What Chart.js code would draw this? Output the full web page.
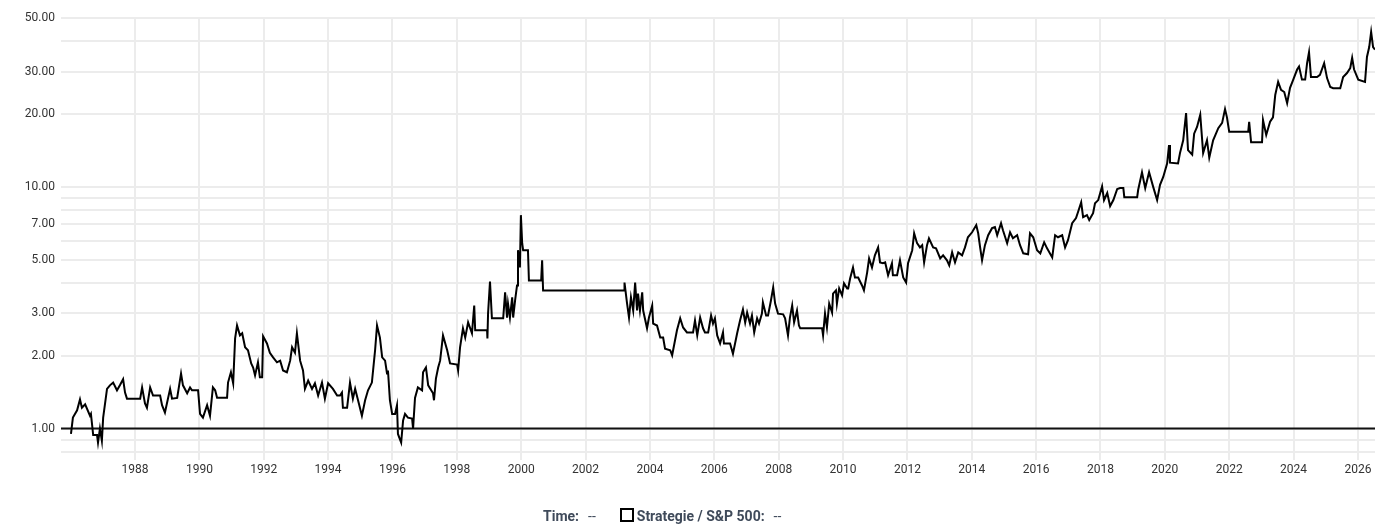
<!DOCTYPE html>
<html>
<head>
<meta charset="utf-8">
<script src="https://cdn.jsdelivr.net/npm/chart.js@4"></script>
<style>
  html, body { margin: 0; padding: 0; background: #fff; }
  #wrap { position: relative; width: 1389px; height: 532px; }
  #legend {
    position: absolute; left: 543px; top: 508px; height: 18px; line-height: 18px;
    font: bold 14px Roboto, sans-serif; color: #3f4a5a; white-space: nowrap;
  }
  #legend .v { font-weight: normal; margin-left: 9px; }
  #legend .box {
    display: inline-block; width: 10px; height: 10px; border: 2px solid #000;
    vertical-align: -1px; margin-left: 24px; margin-right: 3px;
  }
</style>
</head>
<body>
<div id="wrap">
  <canvas id="ratioChart"></canvas>
  <div id="legend"><span>Time:</span><span class="v">--</span><span class="box"></span><span>Strategie / S&amp;P 500:</span><span class="v">--</span></div>
</div>
<script>
// decimal years and Strategie / S&P 500 ratio
const years = [
  1986.01, 1986.07, 1986.20, 1986.29, 1986.35, 1986.45, 1986.60, 1986.63, 1986.70, 1986.82,
  1986.85, 1986.91, 1986.97, 1987.01, 1987.13, 1987.22, 1987.32, 1987.44, 1987.53, 1987.63,
  1987.69, 1987.75, 1988.16, 1988.22, 1988.31, 1988.37, 1988.47, 1988.56, 1988.78, 1988.84,
  1988.93, 1989.09, 1989.15, 1989.31, 1989.43, 1989.49, 1989.62, 1989.71, 1989.77, 1989.96,
  1990.02, 1990.11, 1990.24, 1990.33, 1990.42, 1990.49, 1990.55, 1990.86, 1990.89, 1990.98,
  1991.05, 1991.11, 1991.17, 1991.26, 1991.33, 1991.42, 1991.51, 1991.61, 1991.67, 1991.73,
  1991.82, 1991.88, 1991.95, 1991.98, 1992.10, 1992.19, 1992.29, 1992.41,
  1992.51, 1992.60, 1992.72, 1992.82, 1992.88, 1992.97, 1993.03, 1993.13, 1993.22, 1993.28,
  1993.38, 1993.50, 1993.59, 1993.69, 1993.81, 1993.90, 1994.00, 1994.15, 1994.28, 1994.37,
  1994.43, 1994.46, 1994.59, 1994.68, 1994.77, 1994.84, 1994.93, 1995.05, 1995.15, 1995.24,
  1995.36, 1995.46, 1995.52, 1995.61, 1995.68, 1995.77, 1995.83, 1995.86, 1995.92, 1995.99,
  1996.08, 1996.14, 1996.17, 1996.27, 1996.33, 1996.39, 1996.48, 1996.61, 1996.64, 1996.70,
  1996.79, 1996.92, 1996.95, 1997.04, 1997.11, 1997.26, 1997.29, 1997.35, 1997.42, 1997.48,
  1997.57, 1997.70, 1997.79, 1998.01, 1998.04, 1998.10, 1998.19, 1998.26, 1998.35, 1998.47,
  1998.54, 1998.57, 1998.94, 1998.95, 1998.97, 1999.03,
  1999.09, 1999.44, 1999.50, 1999.56, 1999.59, 1999.65, 1999.72, 1999.75, 1999.81, 1999.87,
  1999.90, 1999.96, 1999.99, 2000.03, 2000.06, 2000.21, 2000.24, 2000.62, 2000.65, 2000.68,
  2003.20, 2003.21, 2003.29, 2003.35, 2003.41, 2003.48, 2003.54, 2003.60, 2003.63, 2003.69,
  2003.76, 2003.79, 2003.91, 2003.97, 2004.07, 2004.10, 2004.22, 2004.32, 2004.41, 2004.47,
  2004.63, 2004.69, 2004.78, 2004.84, 2004.94, 2005.03, 2005.15, 2005.34, 2005.40, 2005.47,
  2005.56, 2005.65, 2005.71, 2005.81, 2005.90, 2005.96, 2006.02, 2006.09, 2006.18,
  2006.27, 2006.30, 2006.49, 2006.58, 2006.71, 2006.80, 2006.89, 2006.96, 2007.02, 2007.11,
  2007.17, 2007.24, 2007.33, 2007.39, 2007.48, 2007.51, 2007.61, 2007.67, 2007.76, 2007.83,
  2007.89, 2007.98, 2008.14, 2008.20, 2008.29, 2008.35, 2008.42, 2008.48, 2008.57, 2008.63,
  2008.67, 2009.35, 2009.38, 2009.44, 2009.50, 2009.57, 2009.66, 2009.69, 2009.78, 2009.81,
  2009.88, 2009.97, 2010.03, 2010.13, 2010.16, 2010.22, 2010.31, 2010.37, 2010.47, 2010.59,
  2010.65, 2010.75, 2010.81, 2010.90, 2010.99, 2011.09, 2011.15, 2011.24, 2011.31, 2011.40,
  2011.52, 2011.55, 2011.68, 2011.77, 2011.87, 2011.96, 2012.02, 2012.15, 2012.21, 2012.30,
  2012.39, 2012.46, 2012.52, 2012.61, 2012.67, 2012.80, 2012.89, 2013.02,
  2013.11, 2013.23, 2013.30, 2013.39, 2013.48, 2013.58, 2013.70, 2013.79, 2013.88, 2014.01,
  2014.14, 2014.20, 2014.26, 2014.32, 2014.41, 2014.51, 2014.63, 2014.72, 2014.79, 2014.91,
  2014.97, 2015.10, 2015.19, 2015.28, 2015.41, 2015.50, 2015.60, 2015.75, 2015.81, 2015.91,
  2016.03, 2016.13, 2016.25, 2016.34, 2016.50, 2016.59, 2016.68, 2016.81, 2016.90, 2016.99,
  2017.12, 2017.24, 2017.30, 2017.40, 2017.46, 2017.58, 2017.65, 2017.77, 2017.83, 2017.93,
  2018.05, 2018.11, 2018.21, 2018.30, 2018.40, 2018.52, 2018.61, 2018.71, 2018.74, 2019.14,
  2019.17, 2019.29, 2019.39, 2019.51, 2019.64, 2019.76, 2019.85,
  2019.95, 2020.07, 2020.13, 2020.16, 2020.41, 2020.47, 2020.57, 2020.66, 2020.72, 2020.85,
  2020.91, 2021.00, 2021.10, 2021.19, 2021.31, 2021.38, 2021.50, 2021.66, 2021.78, 2021.87,
  2021.93, 2022.00, 2022.59, 2022.62, 2022.68, 2023.02, 2023.05, 2023.15, 2023.27, 2023.36,
  2023.43, 2023.52, 2023.61, 2023.71, 2023.80, 2023.89, 2023.99, 2024.11, 2024.17, 2024.26,
  2024.36, 2024.42, 2024.48, 2024.54, 2024.73, 2024.82, 2024.95, 2025.04, 2025.14, 2025.23,
  2025.45, 2025.54, 2025.66, 2025.76, 2025.82, 2025.88, 2026.01, 2026.22, 2026.28, 2026.35,
  2026.41, 2026.47, 2026.53
];
const ratio = [
  0.95, 1.11, 1.19, 1.32, 1.22, 1.26, 1.13, 1.15, 0.94, 0.94,
  0.875, 1.00, 0.89, 1.11, 1.46, 1.51, 1.55, 1.44, 1.51, 1.60,
  1.41, 1.33, 1.33, 1.48, 1.27, 1.22, 1.48, 1.37, 1.37, 1.25,
  1.165, 1.46, 1.33, 1.34, 1.69, 1.51, 1.40, 1.48, 1.44, 1.44,
  1.15, 1.11, 1.25, 1.13, 1.48, 1.44, 1.34, 1.34, 1.55, 1.71,
  1.54, 2.36, 2.67, 2.43, 2.48, 2.17, 2.11, 1.86, 1.79, 1.66,
  1.88, 1.63, 1.63, 2.41, 2.25, 2.06, 1.97, 1.88,
  1.91, 1.74, 1.71, 1.91, 2.17, 2.06, 2.48, 1.91, 1.74, 1.46,
  1.58, 1.46, 1.54, 1.37, 1.55, 1.33, 1.54, 1.46, 1.37, 1.37,
  1.41, 1.22, 1.22, 1.55, 1.33, 1.46, 1.31, 1.13, 1.31, 1.44,
  1.55, 2.11, 2.67, 2.38, 1.97, 1.91, 1.69, 1.74, 1.31, 1.15,
  1.15, 1.25, 0.95, 0.875, 1.08, 1.15, 1.11, 1.10, 1.00, 1.34,
  1.48, 1.44, 1.71, 1.79, 1.51, 1.40, 1.31, 1.61, 1.79, 1.91,
  2.43, 2.11, 1.86, 1.84, 1.74, 2.17, 2.60, 2.38, 2.75, 2.48,
  3.23, 2.55, 2.55, 2.36, 2.99, 4.06,
  2.86, 2.86, 3.66, 2.88, 3.29, 2.88, 3.49, 2.88, 3.39, 3.91,
  5.47, 4.64, 7.64, 5.85, 5.47, 5.47, 4.10, 4.10, 4.97, 3.73,
  3.73, 4.02, 3.29, 2.88, 3.49, 3.08, 4.02, 3.08, 3.62, 3.08,
  3.66, 3.08, 2.60, 2.88, 3.23, 2.72, 2.67, 2.38, 2.38, 2.14,
  2.11, 2.01, 2.32, 2.55, 2.86, 2.62, 2.50, 2.50, 2.80, 2.43,
  2.88, 2.60, 2.50, 2.50, 2.94, 2.72, 2.86, 2.43, 2.25,
  2.50, 2.25, 2.25, 2.04, 2.48, 2.80, 3.11, 2.75, 3.02, 2.72,
  2.94, 2.50, 2.86, 2.72, 2.99, 3.33, 2.94, 2.94, 3.39, 3.84,
  3.29, 2.99, 2.97, 2.86, 2.43, 2.88, 3.23, 2.75, 3.08, 2.67,
  2.60, 2.60, 2.43, 2.99, 2.62, 3.29, 3.02, 3.62, 3.73, 3.29,
  3.80, 3.56, 3.99, 3.80, 3.80, 4.18, 4.64, 4.22, 4.22, 3.91,
  3.73, 4.43, 5.06, 4.64, 5.21, 5.62, 4.87, 4.83, 4.87, 4.31,
  4.83, 4.31, 4.31, 4.97, 4.22, 4.02, 4.83, 5.47, 6.43, 5.85,
  5.62, 5.74, 4.87, 5.74, 6.13, 5.62, 5.57, 5.06,
  5.21, 4.97, 4.74, 5.36, 4.87, 5.36, 5.21, 5.62, 6.19, 6.49,
  6.95, 6.43, 5.62, 4.97, 5.74, 6.31, 6.75, 6.82, 6.31, 7.08,
  6.62, 5.85, 6.49, 6.13, 6.31, 5.74, 5.31, 5.26, 6.43, 6.19,
  5.47, 5.31, 5.90, 5.57, 5.11, 6.31, 6.19, 6.31, 5.62, 6.02,
  7.08, 7.43, 7.86, 8.64, 7.49, 7.64, 7.29, 7.79, 8.56, 8.82,
  10.05, 8.82, 9.44, 8.33, 8.82, 9.80, 9.89, 9.89, 9.07, 9.07,
  9.71, 11.5, 9.89, 11.5, 9.98, 8.82, 10.2,
  11.0, 12.5, 14.9, 12.6, 12.5, 13.8, 15.6, 20.2, 14.2, 13.6,
  16.6, 17.7, 19.9, 13.8, 15.6, 13.2, 15.6, 17.5, 18.4, 21.0,
  19.4, 16.9, 16.9, 18.6, 15.3, 15.3, 18.9, 16.4, 18.6, 19.4,
  24.0, 27.2, 25.2, 24.7, 22.2, 25.7, 27.8, 30.6, 31.5, 27.8,
  27.8, 32.5, 36.1, 28.5, 28.5, 29.1, 32.5, 28.2, 25.9, 25.6,
  25.6, 28.5, 29.6, 31.0, 34.2, 30.6, 27.8, 27.2, 34.5, 37.9,
  43.8, 37.9, 37.0
];
const baseline = 1;
const xMin = 1985.7;
const xMax = 2026.53;
const xTickYears = [1988, 1990, 1992, 1994, 1996, 1998, 2000, 2002, 2004, 2006, 2008, 2010,
  2012, 2014, 2016, 2018, 2020, 2022, 2024, 2026];
const yGridValues = [0.8, 0.9, 1, 2, 3, 4, 5, 6, 7, 8, 9, 10, 20, 30, 40, 50];
const yLabelValues = [1, 2, 3, 5, 7, 10, 20, 30, 50];

const gridColor = '#ececec';
const tickColor = '#333';

const ctx = document.getElementById('ratioChart').getContext('2d');
const chart = new Chart(ctx, {
  type: 'line',
  data: {
    datasets: [
      {
        label: 'Strategie / S&P 500',
        data: years.map((y, i) => ({ x: y, y: ratio[i] })),
        borderColor: '#000',
        borderWidth: 2,
        pointRadius: 0,
        tension: 0,
        order: 0
      },
      {
        label: 'base',
        data: [{ x: xMin, y: baseline }, { x: xMax, y: baseline }],
        borderColor: '#111',
        borderWidth: 2,
        pointRadius: 0,
        order: 1
      }
    ]
  },
  options: {
    responsive: true,
    maintainAspectRatio: false,
    animation: false,
    layout: { padding: { top: 18, right: 14, bottom: 0, left: 0 } },
    plugins: {
      legend: { display: false },
      tooltip: { enabled: false }
    },
    scales: {
      x: {
        type: 'linear',
        min: xMin,
        max: xMax,
        afterBuildTicks: s => { s.ticks = xTickYears.map(v => ({ value: v })); },
        afterFit: s => { s.height = 80; },
        border: { display: false },
        grid: { color: gridColor, lineWidth: 2, tickLength: 8 },
        ticks: {
          autoSkip: false,
          maxRotation: 0,
          padding: 3,
          color: tickColor,
          font: { family: 'Roboto', size: 12 },
          callback: v => String(v)
        }
      },
      y: {
        type: 'logarithmic',
        min: 0.8,
        max: 50,
        afterBuildTicks: s => { s.ticks = yGridValues.map(v => ({ value: v })); },
        afterFit: s => { s.width = 61; },
        border: { display: false },
        grid: { color: gridColor, lineWidth: 2, drawTicks: false },
        ticks: {
          autoSkip: false,
          padding: 6,
          color: tickColor,
          font: { family: 'Roboto', size: 12 },
          callback: v => yLabelValues.includes(v) ? v.toFixed(2) : ''
        }
      }
    }
  }
});
</script>
</body>
</html>
